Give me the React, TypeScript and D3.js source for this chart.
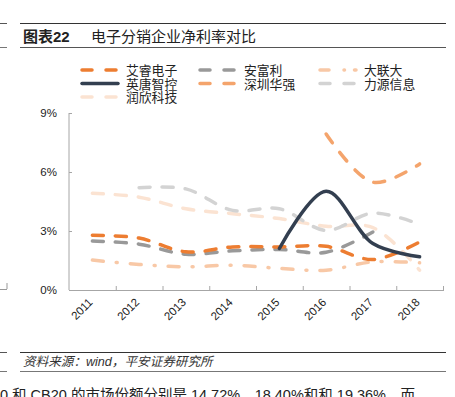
import React from "react";
import * as d3 from "d3";

const years = ["2011", "2012", "2013", "2014", "2015", "2016", "2017", "2018"];
const yTicks = [0, 3, 6, 9];

const arrow: (number | null)[] = [2.78, 2.64, 1.94, 2.19, 2.19, 2.22, 1.55, 2.44];
const avnet: (number | null)[] = [2.49, 2.33, 1.82, 1.99, 2.06, 1.92, 2.95, null];
const wpg: (number | null)[] = [1.52, 1.3, 1.18, 1.26, 1.1, 1.01, 1.43, 1.38];
const yingtang: (number | null)[] = [null, null, null, null, 2.11, 5.02, 2.36, 1.69];
const huaqiang: (number | null)[] = [null, null, null, null, null, 7.93, 5.48, 6.41];
const liyuan: (number | null)[] = [null, 5.2, 5.14, 4.05, 4.13, 3.03, 3.91, 3.34];
const runxin: (number | null)[] = [4.92, 4.72, 4.13, 3.88, 3.63, 3.24, 3.17, 1.01];

const seriesNames = ["艾睿电子", "安富利", "大联大", "英唐智控", "深圳华强", "力源信息", "润欣科技"];

type S = { name: string; values: (number | null)[]; color: string; dash: string };

const series: S[] = [
  { name: seriesNames[6], values: runxin, color: "#FBE3D2", dash: "11,12" },
  { name: seriesNames[5], values: liyuan, color: "#D3D3D3", dash: "11,12" },
  { name: seriesNames[2], values: wpg, color: "#F8C8A6", dash: "11,13,1,13" },
  { name: seriesNames[1], values: avnet, color: "#999999", dash: "11,12" },
  { name: seriesNames[0], values: arrow, color: "#ED7D31", dash: "11,12" },
  { name: seriesNames[4], values: huaqiang, color: "#F4A46C", dash: "11,12" },
  { name: seriesNames[3], values: yingtang, color: "#333F50", dash: "" },
];

const legendOrder = [
  { idx: 0, col: 0, row: 0 },
  { idx: 1, col: 1, row: 0 },
  { idx: 2, col: 2, row: 0 },
  { idx: 3, col: 0, row: 1 },
  { idx: 4, col: 1, row: 1 },
  { idx: 5, col: 2, row: 1 },
  { idx: 6, col: 0, row: 2 },
];

const W = 455;
const H = 397;
const left = 69;
const right = 443;
const top = 113;
const bottom = 290;

export default function App() {
  const x = d3.scaleBand<string>().domain(years).range([left, right]);
  const y = d3.scaleLinear().domain([0, 9]).range([bottom, top]);
  const line = d3
    .line<number | null>()
    .defined((d) => d != null)
    .x((_, i) => (x(years[i]) as number) + x.bandwidth() / 2)
    .y((d) => y(d as number))
    .curve(d3.curveCatmullRom.alpha(0.5));

  const sans = "'Liberation Sans', Arial, 'Noto Sans CJK SC', sans-serif";
  const cjk = "'Liberation Sans', 'Noto Sans CJK SC', sans-serif";
  const colX = [80, 198, 318];
  const rowY = [70, 83.5, 97];
  const byName = (n: string) => series.find((s) => s.name === n)!;

  return (
    <svg width={W} height={H} style={{ position: "absolute", left: 0, top: 0 }}>
      <rect width={W} height={H} fill="#fff" />
      {/* page frame lines */}
      <line x1={20} x2={446} y1={23.5} y2={23.5} stroke="#333" strokeWidth={1} />
      <line x1={20} x2={446} y1={47.5} y2={47.5} stroke="#555" strokeWidth={1} />
      <line x1={0} x2={7} y1={23.5} y2={23.5} stroke="#555" strokeWidth={1} />
      <line x1={0} x2={7} y1={47.5} y2={47.5} stroke="#777" strokeWidth={1} />
      <text x={23} y={41.5} fontFamily={cjk} fontSize={15} fontWeight="bold" fill="#222">
        图表22
      </text>
      <text x={91} y={41.5} fontFamily={cjk} fontSize={15} fill="#222">
        电子分销企业净利率对比
      </text>

      {/* legend */}
      {legendOrder.map(({ idx, col, row }) => {
        const s = byName(seriesNames[idx]);
        const ly = rowY[row];
        return (
          <g key={s.name}>
            <line
              x1={colX[col] + 2}
              x2={colX[col] + 38}
              y1={ly}
              y2={ly}
              stroke={s.color}
              strokeWidth={3.5}
              strokeLinecap="round"
              strokeDasharray={s.dash === "" ? undefined : s.name === "大联大" ? "9,15,0.5,10" : "10,14"}
            />
            <text x={colX[col] + 46} y={ly + 5} fontFamily={cjk} fontSize={12.8} fill="#222">
              {s.name}
            </text>
          </g>
        );
      })}

      {/* axes */}
      <line x1={left} x2={left} y1={top} y2={bottom} stroke="#a6a6a6" />
      <line x1={left} x2={right + 1} y1={bottom + 0.5} y2={bottom + 0.5} stroke="#a6a6a6" />
      {yTicks.map((t) => (
        <g key={t}>
          <line x1={left} x2={left + 3} y1={Math.round(y(t)) + 0.5} y2={Math.round(y(t)) + 0.5} stroke="#a6a6a6" />
          <text x={57} y={y(t) + 4} textAnchor="end" fontFamily={sans} fontSize={11.5} fill="#222">
            {t}%
          </text>
        </g>
      ))}
      {years.map((yr) => {
        const bx = (x(yr) as number) + x.bandwidth();
        const cx = (x(yr) as number) + x.bandwidth() / 2;
        return (
          <g key={yr}>
            <line x1={bx + 0.5} x2={bx + 0.5} y1={bottom - 4} y2={bottom} stroke="#a6a6a6" />
            <text
              transform={`translate(${cx + 1},${bottom + 13}) rotate(-45)`}
              textAnchor="end"
              fontFamily={sans}
              fontSize={11.5}
              fill="#222"
            >
              {yr}
            </text>
          </g>
        );
      })}

      {/* series */}
      {series.map((s) => (
        <path
          key={s.name}
          d={line(s.values) || ""}
          fill="none"
          stroke={s.color}
          strokeWidth={3.5}
          strokeLinecap="round"
          strokeDasharray={s.dash || undefined}
        />
      ))}

      {/* footer */}
      <line x1={20} x2={446} y1={352.5} y2={352.5} stroke="#333" />
      <line x1={20} x2={446} y1={371.5} y2={371.5} stroke="#777" />
      <line x1={0} x2={7} y1={352.5} y2={352.5} stroke="#555" />
      <line x1={0} x2={7} y1={371.5} y2={371.5} stroke="#777" />
      <line x1={7} x2={7} y1={283} y2={289} stroke="#999" />
      <line x1={0} x2={7} y1={289.5} y2={289.5} stroke="#999" />
      <text x={23} y={366} fontFamily={cjk} fontSize={12.6} fontStyle="italic" fill="#333">
        资料来源：wind，平安证券研究所
      </text>
      <text x={0} y={400} fontFamily={cjk} fontSize={14.5} fill="#222">
        0 和 CB20 的市场份额分别是 14.72%、18.40%和和 19.36%，而
      </text>
    </svg>
  );
}
